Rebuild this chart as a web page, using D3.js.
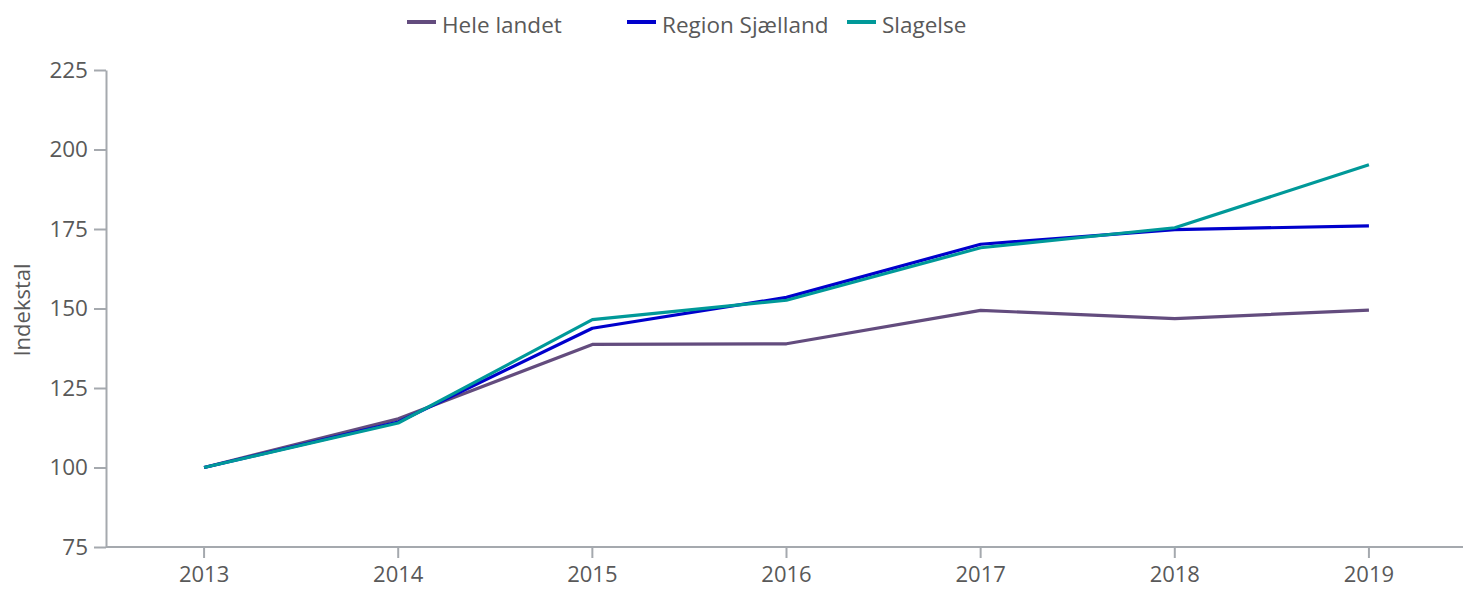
<!DOCTYPE html>
<html>
<head>
<meta charset="utf-8">
<script src="https://cdn.jsdelivr.net/npm/d3@7"></script>
<style>
  html, body { margin: 0; padding: 0; background: #fff; }
  svg { display: block; font-family: "Open Sans", sans-serif; }
</style>
</head>
<body>
<svg id="chart" width="1463" height="589"></svg>
<script>
const years = ["2013", "2014", "2015", "2016", "2017", "2018", "2019"];
const heleLandet = [100, 115.3, 138.7, 138.9, 149.4, 146.8, 149.5];
const regionSjaelland = [100, 114.3, 143.8, 153.5, 170.2, 174.8, 176.0];
const slagelse = [100, 114.0, 146.5, 152.6, 169.1, 175.4, 195.2];
const seriesNames = ["Hele landet", "Region Sjælland", "Slagelse"];
const seriesColors = ["#634C7E", "#0000CC", "#009999"];
const yTicks = [75, 100, 125, 150, 175, 200, 225];
const yTitle = "Indekstal";

(function () {
const series = [heleLandet, regionSjaelland, slagelse].map((vals, i) => ({
  name: seriesNames[i], color: seriesColors[i], values: vals
}));

const svg = d3.select("#chart");
const mLeft = 106, mRight = 1463, mTop = 70, mBottom = 547;
const textColor = "#595959", axisColor = "#A5A9AE";

const x = d3.scaleBand().domain(years).range([107, 1466]);
const y = d3.scaleLinear().domain([75, 225]).range([mBottom, mTop]);

// Y axis
const yAxis = svg.append("g").attr("transform", `translate(${mLeft},0)`)
  .call(d3.axisLeft(y).tickValues(yTicks).tickSize(12).tickPadding(6).tickSizeOuter(0));
yAxis.select(".domain").attr("stroke", axisColor).attr("stroke-width", 2);
yAxis.selectAll(".tick line").attr("stroke", axisColor).attr("stroke-width", 2);
yAxis.selectAll(".tick text").attr("fill", textColor).attr("font-size", 22.5)
  .attr("font-family", "Open Sans, sans-serif");

// X axis
const xAxis = svg.append("g").attr("transform", `translate(0,${mBottom})`)
  .call(d3.axisBottom(x).tickSize(11).tickPadding(8).tickSizeOuter(0));
xAxis.select(".domain").attr("d", `M${mLeft},0H${mRight}`)
  .attr("stroke", axisColor).attr("stroke-width", 2);
xAxis.selectAll(".tick line").attr("stroke", axisColor).attr("stroke-width", 2);
xAxis.selectAll(".tick text").attr("fill", textColor).attr("font-size", 22)
  .attr("font-family", "Open Sans, sans-serif");

// Y title
svg.append("text")
  .attr("transform", `translate(30,310) rotate(-90)`)
  .attr("text-anchor", "middle")
  .attr("fill", textColor)
  .attr("font-size", 22)
  .text(yTitle);

// Lines
const line = d3.line()
  .x((d, i) => x(years[i]) + x.bandwidth() / 2)
  .y(d => y(d));
svg.append("g").selectAll("path").data(series).join("path")
  .attr("d", d => line(d.values))
  .attr("fill", "none")
  .attr("stroke", d => d.color)
  .attr("stroke-width", 3.2)
  .attr("stroke-linejoin", "round");

// Legend
const legend = svg.append("g").selectAll("g").data(series).join("g")
  .attr("transform", (d, i) => `translate(${407 + i * 220},0)`);
legend.append("rect")
  .attr("x", 0).attr("y", 20).attr("width", 29).attr("height", 4)
  .attr("fill", d => d.color);
legend.append("text")
  .attr("x", 35).attr("y", 33)
  .attr("fill", textColor)
  .attr("font-size", 22.5)
  .text(d => d.name);
})();
</script>
</body>
</html>
